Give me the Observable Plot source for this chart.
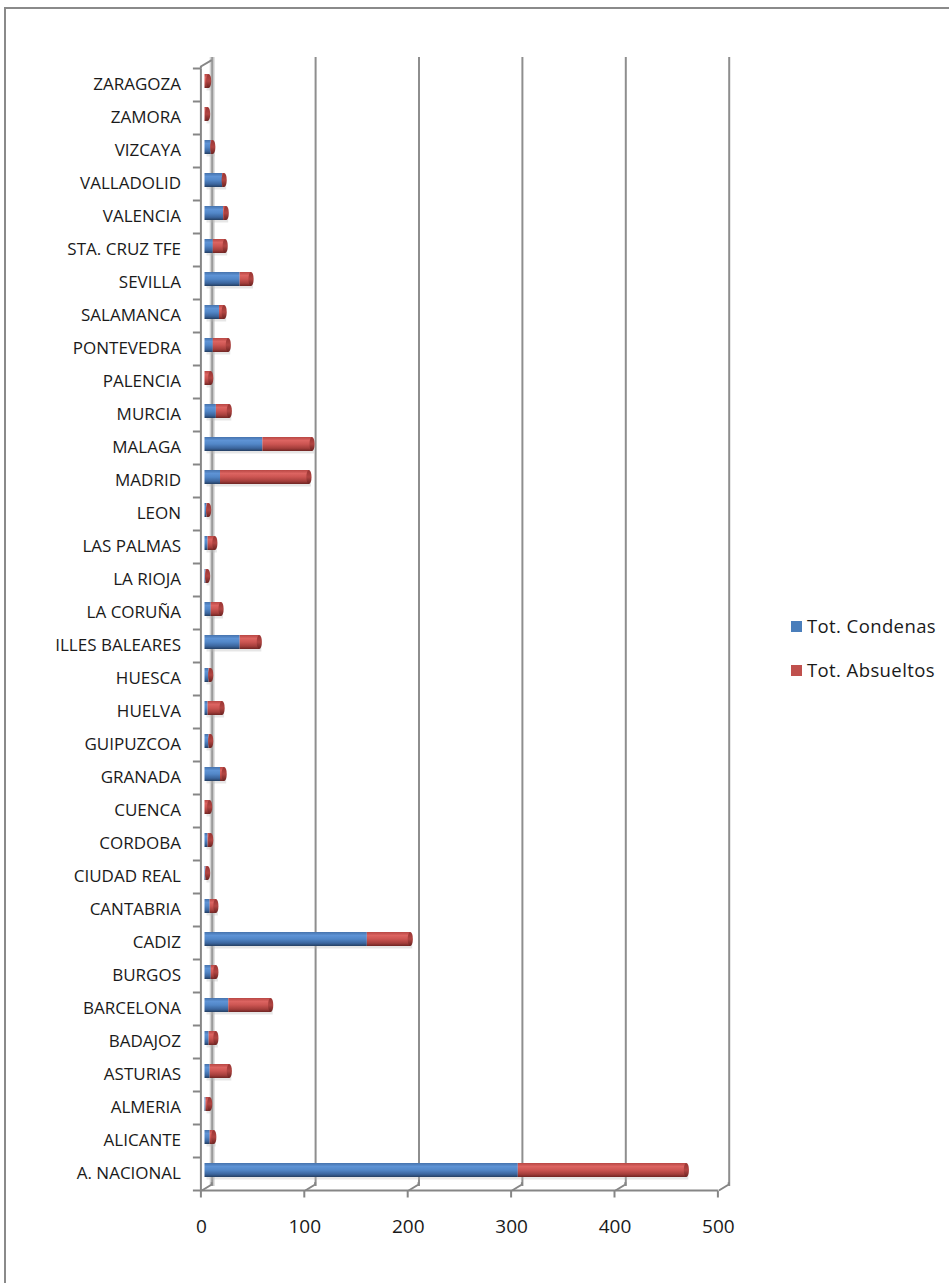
<!DOCTYPE html>
<html><head><meta charset="utf-8">
<script src="https://cdn.jsdelivr.net/npm/d3@7"></script>
<script src="https://cdn.jsdelivr.net/npm/@observablehq/plot@0.6"></script>
<style>
html,body{margin:0;padding:0;background:#fff;}
body{width:949px;height:1283px;overflow:hidden;position:relative;font-family:"Open Sans",sans-serif;}
#chart{position:absolute;left:0;top:0;}
#frame{position:absolute;left:4px;top:7px;width:1000px;height:1400px;border-left:2px solid #8a8a8a;border-top:2px solid #8a8a8a;z-index:2;pointer-events:none;}
.leg{position:absolute;left:791px;font-size:18.5px;letter-spacing:0.4px;color:#1a1a1a;display:flex;align-items:center;z-index:3;line-height:1;}
.sw{display:inline-block;width:11px;height:11px;margin-right:5px;}
g[aria-label="cats"] text{letter-spacing:1.0px;}
</style></head><body>
<div id="chart"></div>
<div id="frame"></div>
<div class="leg" style="top:617px"><span class="sw" style="background:#4a7ebb"></span>Tot. Condenas</div>
<div class="leg" style="top:661px"><span class="sw" style="background:#c0504d"></span>Tot. Absueltos</div>
<script>
// Categories (bottom to top as in the chart)
const provincias = ["A. NACIONAL","ALICANTE","ALMERIA","ASTURIAS","BADAJOZ","BARCELONA","BURGOS","CADIZ","CANTABRIA","CIUDAD REAL","CORDOBA","CUENCA","GRANADA","GUIPUZCOA","HUELVA","HUESCA","ILLES BALEARES","LA CORUÑA","LA RIOJA","LAS PALMAS","LEON","MADRID","MALAGA","MURCIA","PALENCIA","PONTEVEDRA","SALAMANCA","SEVILLA","STA. CRUZ TFE","VALENCIA","VALLADOLID","VIZCAYA","ZAMORA","ZARAGOZA"];
const totCondenas = [303,5,1,5,4,23,6,157,5,1,3,0,15,4,3,4,34,6,1,3,2,15,56,11,0,8,14,34,8,18,17,6,0,0];
const totAbsueltos = [163,4,4,19,7,41,5,42,6,2,3,5,4,2,14,2,19,10,2,7,2,86,48,13,6,15,5,11,12,3,2,2,3,4];
const xTicks = [0,100,200,300,400,500];
const seriesNames = ["Tot. Condenas","Tot. Absueltos"];

const rows = provincias.map((p,i)=>({p, c: totCondenas[i], a: totAbsueltos[i], t: totCondenas[i]+totAbsueltos[i]}));
const topToBottom = provincias.slice().reverse();

const plot = Plot.plot({
  width: 949, height: 1283,
  marginTop: 57, marginBottom: 97, marginLeft: 0, marginRight: 0,
  style: {fontFamily: "'Open Sans', sans-serif", background: "transparent", color: "#1a1a1a"},
  x: {domain: [0,500], range: [204.5, 721.5], axis: null},
  y: {domain: topToBottom, range: [61.4, 1190.2], paddingInner: 0.58, paddingOuter: 0.29, axis: null},
  marks: [
    // back wall base line and gridlines
    Plot.ruleX([0], {x: d=>d, dx: 7.2, stroke: "#d4d4d4", strokeWidth: 5}),
    Plot.ruleX([0], {x: d=>d, dx: 7.2, stroke: "#9a9a9a", strokeWidth: 2}),
    Plot.ruleX(xTicks.slice(1), {x: d=>d, dx: 7.2, stroke: "#8e8e8e", strokeWidth: 2}),
    // soft shadow
    Plot.barX(rows, {x1: 0, x2: "t", y: "p", fill: "#b8b8b8", fillOpacity: 0.35, dx: 2, dy: 2.5}),
    // stacked cylinders
    Plot.barX(rows, {x1: 0, x2: "c", y: "p", fill: "url(#gBlue)"}),
    Plot.barX(rows, {x1: "c", x2: "t", y: "p", fill: "url(#gRed)"}),
    Plot.barX(rows, {x1: "t", x2: "t", y: "p", insetLeft: -2.6, insetRight: -2.6, rx: 2.6, ry: 7, fill: "url(#gCap)"}),
    // category labels
    Plot.text(topToBottom, {ariaLabel: "cats", x: () => 0, y: d=>d, dx: -24, dy: 3.5, textAnchor: "end", fontSize: 17, fill: "#1a1a1a"}),
    // x tick labels
    Plot.text(xTicks, {ariaLabel: "xlabels", x: d=>d, frameAnchor: "bottom", dx: -3.6, dy: 46, textAnchor: "middle", fontSize: 19, fill: "#1a1a1a"})
  ]
});
document.getElementById("chart").appendChild(plot);

// gradients for cylinder shading
const svg = d3.select(plot);
const defs = svg.insert("defs", ":first-child");
function grad(id, stops){
  const g = defs.append("linearGradient").attr("id", id).attr("x1",0).attr("y1",0).attr("x2",0).attr("y2",1);
  stops.forEach(([o,c])=>g.append("stop").attr("offset",o).attr("stop-color",c));
}
grad("gBlue", [[0,"#4673ad"],[0.25,"#5e93d5"],[0.5,"#5287c8"],[0.8,"#3b659d"],[1,"#253f62"]]);
grad("gRed",  [[0,"#b84744"],[0.25,"#dc6461"],[0.5,"#cc5552"],[0.8,"#a43e3b"],[1,"#6f2523"]]);
grad("gCap",  [[0,"#9a3533"],[0.5,"#b14542"],[1,"#6a2220"]]);

// 3D frame: front axes, ticks and junction diagonals (positions from Plot's scales)
const X = plot.scale("x"), Y = plot.scale("y");
const step = Y.step, bw = Y.bandwidth;
const yTop = Y.apply(topToBottom[0]) + bw/2 - step/2;
const yBot = Y.apply(topToBottom[topToBottom.length-1]) + bw/2 + step/2;
const fX = v => X.apply(v) - 3.6;
const bX = v => X.apply(v) + 7.2;
const g = svg.append("g").attr("stroke", "#868686").attr("stroke-width", 2).attr("fill", "none");
g.append("line").attr("x1", fX(0)).attr("x2", fX(0)).attr("y1", yTop+4).attr("y2", yBot+4);
for (let i = 0; i <= topToBottom.length; i++) {
  const yy = yTop + i*step + 4;
  g.append("line").attr("x1", fX(0)-8).attr("x2", fX(0)).attr("y1", yy).attr("y2", yy);
}
g.append("line").attr("x1", fX(0)).attr("x2", fX(500)).attr("y1", yBot+4).attr("y2", yBot+4);
xTicks.forEach(k => {
  g.append("line").attr("x1", fX(k)).attr("x2", fX(k)).attr("y1", yBot+4).attr("y2", yBot+11);
  g.append("path").attr("d", `M${bX(k)},${yBot-4.2} L${bX(k)},${yBot-2} L${fX(k)+1},${yBot+4}`);
});
g.append("path").attr("d", `M${fX(0)},${yTop+4} L${fX(0)},${yTop+2} L${bX(0)},${yTop-4.4}`);
</script>
</body></html>
